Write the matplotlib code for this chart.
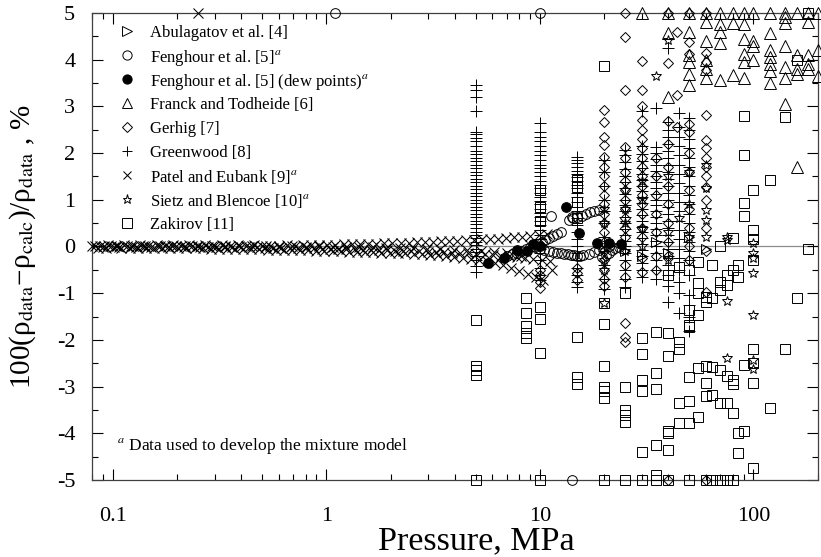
import matplotlib
matplotlib.use("Agg")
import matplotlib.pyplot as plt
from matplotlib.ticker import LogLocator, FixedLocator, MultipleLocator, NullFormatter

# ── Style ─────────────────────────────────────────────────────
plt.rcParams["font.family"] = ["Liberation Serif", "DejaVu Serif"]
plt.rcParams["mathtext.fontset"] = "stix"
plt.rcParams["axes.unicode_minus"] = False

# ── Data: Abulagatov et al. ───────────────────────────────────
abu_p   = [20, 25, 30, 35, 40, 50, 60]
abu_dev = [0.05, -0.1, -0.2, 0.1, -0.15, 0.2, -0.05]

# ── Data: Fenghour et al. (open circles) ──────────────────────
fh_p   = [7.0, 7.4, 7.8, 8.2, 8.6, 9.0, 9.4, 9.8, 10.2, 10.6, 11.0, 11.5, 12.0, 12.5,
          9.5, 10.0, 10.5, 11.0, 11.5, 12.0, 12.5, 13.0, 13.5, 14.0, 14.5, 15.0, 15.5, 16.0, 17.0, 18.0, 19.0, 20.0, 21.0,
          13.7, 14.3, 15.0, 15.7, 16.4, 17.2, 18.0, 19.0,
          19.6, 20.3, 21.0, 21.8, 22.6, 23.5,
          11.3, 14.2, 1.1, 10.0, 14.2]
fh_dev = [-0.2, -0.17, -0.13, -0.1, -0.06, -0.02, 0.02, 0.06, 0.1, 0.14, 0.18, 0.22, 0.26, 0.3,
          -0.02, -0.05, -0.08, -0.1, -0.12, -0.14, -0.15, -0.16, -0.17, -0.18, -0.19, -0.2, -0.2, -0.19, -0.16, -0.12, -0.08, -0.04, 0.0,
          0.57, 0.6, 0.63, 0.66, 0.7, 0.73, 0.76, 0.78,
          -0.22, -0.18, -0.13, -0.08, -0.04, -0.02,
          0.65, 0.63, 5.0, 5.0, -5.0]

# ── Data: Fenghour et al. dew points ──────────────────────────
dew_p   = [5.7, 6.8, 7.8, 8.7, 9.3, 10.0, 13.3, 15.3, 18.6, 21.0, 24.0]
dew_dev = [-0.35, -0.25, -0.07, -0.1, 0.05, 0.0, 0.84, 0.28, 0.08, 0.08, 0.05]

# ── Data: Franck and Todheide ─────────────────────────────────
fr_30  = [5.0]
fr_40  = [5.0, 4.57, 3.19]
fr_50  = [5.0, 4.6, 4.1, 3.95, 3.7, 3.45]
fr_60  = [5.0, 4.8, 4.4, 4.0, 3.8, 3.6]
fr_70  = [5.0, 4.75, 4.6, 4.35, 3.56]
fr_80  = [5.0, 4.78, 3.67]
fr_90  = [5.0, 4.75, 4.45, 4.12, 3.95, 3.6]
fr_100 = [5.0, 4.4, 4.3, 4.0]
fr_120 = [5.0, 4.57, 4.2, 4.05, 3.9, 3.75, 3.5]
fr_140 = [5.0, 4.9, 4.78, 4.3, 3.85, 3.6, 3.05]
fr_160 = [5.0, 4.1, 3.8, 3.7, 1.7]
fr_180 = [5.0, 4.8, 4.1, 3.9, 3.8]
fr_200 = [5.0, 4.2, 3.65]

# ── Data: Gerhig ──────────────────────────────────────────────
gh_10 = [-0.5, -0.62, -0.75, -0.88]
gh_15 = [-0.45, -0.57, -0.72]
gh_20 = [2.92, 2.67, 2.35, 2.17, 1.92, 1.7, 1.5, 1.3, 1.1, 0.9, 0.7, 0.5, 0.3, 0.1, -0.1, -0.3, -0.5, -0.7, -0.85]
gh_25 = [5.0, 4.49, 3.35, 2.13, 1.9, 1.6, 1.4, 1.2, 1.0, 0.8, 0.6, 0.4, 0.2, -0.4, -0.65, -1.63, -1.93, -2.05]
gh_30 = [3.96, 3.35, 3.0, 2.7, 2.5, 2.3, 2.1, 1.9, 1.7, 1.5, 1.3, 1.1, 0.9, 0.7, 0.4, 0.2, -0.25, -0.55]
gh_35 = [1.9, 1.5, 1.1, 0.7, 0.3, -0.2, -0.5]
gh_40 = [5.0, 3.93, 2.68, 2.2, 1.7, 1.3, 0.9, 0.5, 0.1, -0.2, -5.0]
gh_44 = [4.6, 3.24, 2.55]
gh_50 = [5.0, 4.38, 4.12, 2.62, 2.45, 2.0, 1.6, 1.2, 0.8, 0.4, 0.0, -0.3]
gh_60 = [5.0, 4.13, 3.95, 3.78, 2.82, 2.28, 2.1, 1.9, 1.7, 1.5, 1.28, 1.0, 0.4, -0.1, -0.97, -5.0]

# ── Data: Greenwood ───────────────────────────────────────────
gw_05 = [3.45, 3.35, 3.2, 2.9, 2.45, 2.4, 2.32, 2.25, 2.15, 2.05, 1.98, 1.9, 1.82, 1.75, 1.68, 1.6,
         1.52, 1.45, 1.38, 1.3, 1.22, 1.15, 1.08, 1.0, 0.92, 0.85, 0.78, 0.7, 0.62, 0.55, 0.48, 0.4,
         0.32, 0.25, 0.18, 0.1, 0.03, -0.05, -0.12, -0.2, -0.3, -0.42, -0.55]
gw_10 = [2.65, 2.45, 2.35, 2.25, 2.15, 2.05, 1.95, 1.85, 1.75, 1.68, 1.6, 1.5, 1.4, 1.32, 1.25, 1.15,
         1.05, 0.98, 0.9, 0.8, 0.72, 0.62, 0.55, 0.45, 0.35, 0.25, 0.15, 0.05, -0.05, -0.15, -0.3,
         -0.45, -0.6, -0.72]
gw_15 = [1.92, 1.85, 1.78, 1.7, 1.62, 1.55, 1.48, 1.4, 1.32, 1.25, 1.15, 1.05, 0.95, 0.85, 0.75, 0.6,
         0.45, 0.3, 0.15, 0.0, -0.15, -0.3, -0.45, -0.6, -0.75, -0.86]
gw_20 = [1.85, 1.6, 1.3, 1.0, 0.75, 0.5, 0.2, -0.1, -0.4, -0.7, -0.9]
gw_25 = [2.07, 1.95, 1.8, 1.65, 1.5, 1.38, 1.25, 1.12, 1.0, 0.88, 0.75, 0.62, 0.5, 0.38, 0.25, 0.12,
         0.0, -0.15, -0.3, -0.5, -0.7, -0.87]
gw_30 = [2.9, 2.15, 1.98, 1.82, 1.68, 1.55, 1.42, 1.3, 1.18, 1.05, 0.92, 0.8, 0.68, 0.55, 0.42, 0.3,
         0.18, 0.05, -0.08, -0.2, -0.35, -0.5, -0.65]
gw_35 = [2.97, 2.13, 2.0, 1.88, 1.75, 1.62, 1.5, 1.38, 1.25, 1.12, 1.0, 0.88, 0.75, 0.62, 0.5, 0.38,
         0.25, 0.12, 0.0, -0.15, -0.3, -0.5, -0.7]
gw_40 = [4.25, 2.67, 2.5, 2.35, 2.2, 2.05, 1.9, 1.75, 1.6, 1.45, 1.3, 1.15, 1.0, 0.85, 0.7, 0.55, 0.4,
         0.25, 0.1, -0.05, -0.2, -0.4, -0.6, -0.85, -1.19]
gw_45 = [2.85, 2.55, 2.35, 2.15, 1.95, 1.75, 1.55, 1.35, 1.15, 0.95, 0.75, 0.55, 0.35, 0.15, -0.05,
         -0.25, -0.5, -0.75, -1.0, -1.43]
gw_50 = [2.75, 2.5, 2.3, 2.1, 1.9, 1.7, 1.5, 1.3, 1.1, 0.9, 0.7, 0.5, 0.3, 0.1, -0.1, -0.3, -0.6,
         -1.03, -1.25, -1.5, -1.8]

# ── Data: Patel and Eubank (four isotherms, interleaved pressures) ─
pe_p_a = [0.080, 0.087, 0.095, 0.104, 0.113, 0.124, 0.135, 0.147, 0.161, 0.176, 0.192, 0.209, 0.228,
          0.249, 0.272, 0.297, 0.324, 0.354, 0.386, 0.421, 0.460, 0.502, 0.548, 0.598, 0.653, 0.713,
          0.778, 0.849, 0.927, 1.01, 1.10, 1.21, 1.32, 1.44, 1.57, 1.71, 1.87, 2.04, 2.23, 2.43,
          2.65, 2.90, 3.16, 3.45, 3.77, 4.11, 4.49, 4.90, 5.35, 5.84, 6.37, 6.95, 7.59, 8.28, 9.04,
          9.87, 10.8]
pe_dev_a = [0.02, 0.02, 0.03, 0.02, 0.03, 0.02, 0.03, 0.02, 0.03, 0.02, 0.03, 0.02, 0.03, 0.02,
            0.03, 0.02, 0.03, 0.02, 0.03, 0.02, 0.03, 0.02, 0.02, 0.02, 0.03, 0.02, 0.03, 0.03, 0.04,
            0.04, 0.04, 0.05, 0.05, 0.05, 0.06, 0.06, 0.07, 0.07, 0.08, 0.08, 0.09, 0.1, 0.1, 0.11,
            0.12, 0.12, 0.13, 0.14, 0.15, 0.16, 0.17, 0.18, 0.2, 0.21, 0.23, 0.25, 0.27]
pe_p_b = [0.083, 0.090, 0.098, 0.107, 0.117, 0.128, 0.139, 0.152, 0.166, 0.181, 0.198, 0.216, 0.235,
          0.257, 0.280, 0.306, 0.334, 0.364, 0.398, 0.434, 0.474, 0.517, 0.565, 0.616, 0.673, 0.734,
          0.802, 0.875, 0.955, 1.04, 1.14, 1.24, 1.36, 1.48, 1.62, 1.76, 1.93, 2.10, 2.29, 2.50,
          2.73, 2.98, 3.26, 3.56, 3.88, 4.24, 4.62, 5.05, 5.51, 6.01, 6.56, 7.16, 7.82, 8.53, 9.31,
          10.2, 11.1]
pe_dev_b = [0.0, -0.01, 0.0, -0.01, 0.0, -0.01, 0.0, -0.01, 0.0, -0.01, 0.0, -0.01, 0.0, -0.01,
            -0.01, -0.01, -0.02, -0.02, -0.02, -0.02, -0.02, -0.03, -0.03, -0.03, -0.03, -0.04,
            -0.04, -0.04, -0.05, -0.05, -0.05, -0.06, -0.06, -0.07, -0.07, -0.08, -0.08, -0.09,
            -0.09, -0.1, -0.1, -0.11, -0.12, -0.12, -0.13, -0.14, -0.15, -0.16, -0.17, -0.18, -0.2,
            -0.21, -0.23, -0.25, -0.27, -0.3, -0.32]
pe_p_c = [0.085, 0.093, 0.101, 0.110, 0.120, 0.131, 0.143, 0.156, 0.170, 0.186, 0.203, 0.221, 0.242,
          0.264, 0.288, 0.314, 0.343, 0.374, 0.408, 0.446, 0.486, 0.531, 0.580, 0.633, 0.690, 0.754,
          0.823, 0.898, 0.980, 1.07, 1.17, 1.28, 1.39, 1.52, 1.66, 1.81, 1.98, 2.16, 2.35, 2.57,
          2.80, 3.06, 3.34, 3.65, 3.98, 4.35, 4.75, 5.18, 5.66, 6.17, 6.74, 7.36, 8.03, 8.77, 9.57,
          10.4, 11.4]
pe_dev_c = [-0.03, -0.03, -0.02, -0.03, -0.03, -0.03, -0.03, -0.03, -0.03, -0.04, -0.04, -0.04,
            -0.04, -0.04, -0.05, -0.05, -0.05, -0.05, -0.06, -0.06, -0.06, -0.07, -0.07, -0.07,
            -0.08, -0.08, -0.08, -0.09, -0.09, -0.1, -0.1, -0.11, -0.11, -0.12, -0.12, -0.13, -0.14,
            -0.14, -0.15, -0.16, -0.17, -0.18, -0.19, -0.2, -0.22, -0.24, -0.26, -0.28, -0.31, -0.35,
            -0.4, -0.46, -0.52, -0.58, -0.65, -0.72, -0.5]
pe_p_d = [0.091, 0.105, 0.122, 0.141, 0.163, 0.189, 0.218, 0.252, 0.291, 0.337, 0.389, 0.450, 0.520,
          0.601, 0.695, 0.803, 0.928, 1.07, 1.24, 1.43, 1.66, 1.91, 2.21, 2.56, 2.96, 3.42, 3.95,
          4.57, 5.28, 6.10, 7.05, 8.15]
pe_dev_d = [0.01, 0.0, 0.01, 0.0, 0.01, 0.0, 0.01, 0.0, 0.01, 0.0, 0.0, 0.01, 0.0, -0.01, 0.0, -0.01,
            0.0, -0.01, -0.01, -0.02, -0.02, -0.03, -0.03, -0.04, -0.05, -0.06, -0.07, -0.08, -0.1,
            -0.12, -0.15, -0.2]
pe_extra_p   = [0.25]
pe_extra_dev = [5.0]

# ── Data: Sietz and Blencoe ───────────────────────────────────
st_p   = [20, 20, 20, 20, 20, 25, 25, 25, 25, 30, 30, 30, 30, 35, 40, 40, 40, 40, 45, 50, 50, 50,
          60, 60, 60, 60, 60, 75, 75, 75, 75, 100, 100, 100, 100, 100, 100, 100]
st_dev = [0.8, 0.5, -0.3, -0.5, -1.2, 1.2, 0.5, -0.1, 0.8, 1.0, 0.4, 0.0, 1.4, 3.65, 4.42, 1.5, 0.3,
          -0.3, 0.6, 1.6, 0.2, 0.9, 1.75, 1.25, 0.78, 0.56, 0.2, 0.14, -1.16, -2.38, 0.2, 0.07, -0.25,
          -0.57, -1.47, -2.43, -2.62, -0.15]

# ── Data: Zakirov ─────────────────────────────────────────────
zk_p = [5, 5, 5, 5, 5,
        8.6, 8.6, 8.6, 8.6, 8.6,
        10, 10, 10, 10, 10, 10, 10,
        15, 15, 15, 15, 15, 15, 15,
        20, 20, 20, 20, 20, 20, 20, 20,
        25, 25, 25, 25, 25, 25,
        30, 30, 30, 30, 30, 30,
        35, 35, 35, 35, 35, 35,
        40, 40, 40, 40, 40, 40, 40,
        45, 45, 45, 45, 45,
        50, 50, 50, 50, 50, 50, 50, 50,
        55, 55, 55, 55, 55, 55,
        60, 60, 60, 60, 60, 60,
        64, 64, 64, 64, 64,
        70, 70, 70, 70, 70, 70,
        75, 75, 75, 75, 75,
        80, 80, 80, 80, 80, 80,
        85, 85, 85, 85,
        90, 90, 90, 90, 90, 90,
        100, 100, 100, 100, 100, 100, 100, 100,
        120, 120, 140, 140, 160, 160, 180, 180]
zk_dev = [-1.57, -2.55, -2.65, -2.75, -5.0,
          -1.1, -1.43, -1.7, -1.85, -1.96,
          1.2, 0.85, 0.55, -1.3, -1.55, -2.28, -5.0,
          1.42, 1.28, 0.95, 0.6, -1.93, -2.8, -2.95,
          3.87, -1.2, -1.65, -2.55, -3.0, -3.1, -3.25, -5.0,
          -1.0, -3.0, -3.5, -3.6, -3.75, -5.0,
          -1.95, -2.3, -2.85, -3.1, -4.4, -5.0,
          -1.83, -2.7, -3.05, -4.25, -4.9, -5.0,
          -0.6, -1.86, -2.35, -3.95, -4.36, -4.0, -5.0,
          -0.44, -2.05, -2.2, -3.78, -3.35,
          -1.37, -1.67, -1.72, -2.8, -3.3, -3.78, -0.5, -5.0,
          -0.33, -0.78, -1.47, -2.6, -3.65, -1.0,
          -1.08, -1.18, -2.55, -2.93, -3.2, -5.0,
          -0.4, -1.1, -2.58, -3.18, -5.0,
          0.0, -0.75, -0.93, -2.64, -3.35, -5.0,
          -0.82, -0.6, -2.78, -3.35, -5.0,
          0.18, -0.5, -2.86, -2.95, -3.56, -5.0,
          -0.4, -0.65, -4.0, -4.43,
          2.8, 1.95, 0.93, 0.65, -2.54, -3.95,
          1.2, 0.35, -0.3, -2.2, -2.5, -2.93, -4.75, 0.15,
          1.42, -3.45, 2.77, -2.2, 4.0, -1.1, 5.0, -0.05]

# ── Assemble column data ──────────────────────────────────────
fr_cols = [(30, fr_30), (40, fr_40), (50, fr_50), (60, fr_60), (70, fr_70), (80, fr_80),
           (90, fr_90), (100, fr_100), (120, fr_120), (140, fr_140), (160, fr_160),
           (180, fr_180), (200, fr_200)]
gh_cols = [(10, gh_10), (15, gh_15), (20, gh_20), (25, gh_25), (30, gh_30), (35, gh_35),
           (40, gh_40), (44, gh_44), (50, gh_50), (60, gh_60)]
gw_cols = [(5, gw_05), (10, gw_10), (15, gw_15), (20, gw_20), (25, gw_25), (30, gw_30),
           (35, gw_35), (40, gw_40), (45, gw_45), (50, gw_50)]


def expand(cols):
    xs, ys = [], []
    for p, devs in cols:
        xs += [p] * len(devs)
        ys += list(devs)
    return xs, ys


fr_p, fr_dev = expand(fr_cols)
gh_p, gh_dev = expand(gh_cols)
gw_p, gw_dev = expand(gw_cols)
pe_all_p = pe_p_a + pe_p_b + pe_p_c + pe_p_d + pe_extra_p
pe_all_dev = pe_dev_a + pe_dev_b + pe_dev_c + pe_dev_d + pe_extra_dev

# ── Series styles (legend order) ──────────────────────────────
series = [
    (abu_p, abu_dev, "Abulagatov et al. [4]", dict(marker=">", ms=7, mfc="none")),
    (fh_p, fh_dev, "Fenghour et al. [5]$^{a}$", dict(marker="o", ms=7, mfc="none")),
    (dew_p, dew_dev, "Fenghour et al. [5] (dew points)$^{a}$", dict(marker="o", ms=7, mfc="k")),
    (fr_p, fr_dev, "Franck and Todheide [6]", dict(marker="^", ms=8, mfc="none")),
    (gh_p, gh_dev, "Gerhig [7]", dict(marker="D", ms=5.5, mfc="none")),
    (gw_p, gw_dev, "Greenwood [8]", dict(marker="+", ms=8)),
    (pe_all_p, pe_all_dev, "Patel and Eubank [9]$^{a}$", dict(marker="x", ms=6.5, mew=0.75)),
    (st_p, st_dev, "Sietz and Blencoe [10]$^{a}$", dict(marker="*", ms=7, mfc="none")),
    (zk_p, zk_dev, "Zakirov [11]", dict(marker="s", ms=7, mfc="none")),
]

# ── Plot ──────────────────────────────────────────────────────
fig = plt.figure(figsize=(8.21, 5.57), dpi=100)
ax = fig.add_axes([0.112, 0.138, 0.884, 0.839])

ax.axhline(0, color="0.55", lw=0.9, zorder=1)

for xs, ys, label, style in series:
    kw = dict(ls="none", mec="k", mew=0.7, clip_on=False, zorder=3)
    kw.update(style)
    ax.plot(xs, ys, **kw)

# legend drawn by hand so every row gets the same pitch
row0, pitch = 0.961, 0.0514
for i, (xs, ys, label, style) in enumerate(series):
    y = row0 - i * pitch
    kw = dict(ls="none", mec="k", mew=0.7, zorder=4)
    kw.update(style)
    kw["ms"] = kw["ms"] * 0.95
    ax.plot([0.048], [y], transform=ax.transAxes, **kw)
    ax.text(0.080, y, label, transform=ax.transAxes, fontsize=12, va="center_baseline",
            ha="left")

ax.set_xscale("log")
ax.set_xlim(0.08, 200)
ax.set_ylim(-5, 5)
ax.xaxis.set_major_locator(FixedLocator([0.1, 1, 10, 100]))
ax.set_xticklabels(["0.1", "1", "10", "100"])
ax.xaxis.set_minor_locator(LogLocator(base=10, subs=range(2, 10)))
ax.xaxis.set_minor_formatter(NullFormatter())
ax.yaxis.set_major_locator(MultipleLocator(1))
ax.yaxis.set_minor_locator(MultipleLocator(0.5))
ax.tick_params(which="both", direction="in", top=True, right=True, labelsize=16)
ax.tick_params(axis="x", which="major", pad=19)
ax.tick_params(axis="y", which="major", pad=12)
ax.tick_params(which="major", length=8, width=0.8)
ax.tick_params(which="minor", length=4, width=0.8)
for s in ax.spines.values():
    s.set_linewidth(0.9)
    s.set_color("0.25")

ax.set_xlabel("Pressure, MPa", fontsize=24.5)
ax.xaxis.set_label_coords(0.529, -0.098)
ax.set_ylabel("100(ρ$_{\\rm data}$\u2212ρ$_{\\rm calc}$)/ρ$_{\\rm data}$ , %", fontsize=21)
ax.yaxis.set_label_coords(-0.074, 0.5)

ax.text(0.034, 0.073, "$^{a}$ Data used to develop the mixture model", transform=ax.transAxes,
        fontsize=12.5, va="center", ha="left")

plt.savefig("out.png", dpi=100)
print("Saved → out.png")
